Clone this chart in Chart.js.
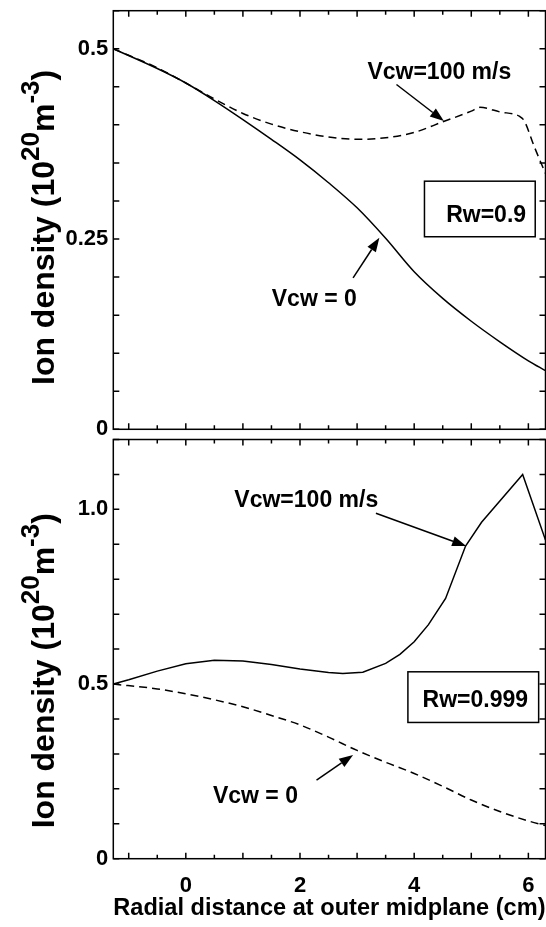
<!DOCTYPE html>
<html>
<head>
<meta charset="utf-8">
<script src="https://cdn.jsdelivr.net/npm/chart.js@4.4.1/dist/chart.umd.min.js"></script>
<style>
  body { margin: 0; background: #fff; }
  #wrap { position: relative; width: 546px; height: 927px; }
  canvas { position: absolute; left: 0; }
</style>
</head>
<body>
<div id="wrap">
  <canvas id="top" width="546" height="436" style="top:0"></canvas>
  <canvas id="bottom" width="546" height="491" style="top:436px"></canvas>
</div>
<script>
const xMin = -1.27, xMax = 6.3;

// top panel (Rw = 0.9)
const topSolidX = [-1.27, -0.5, 0, 0.5, 1, 1.5, 2, 2.5, 3, 3.5, 4, 4.5, 5, 5.5, 6, 6.3];
const topSolidY = [0.50, 0.474, 0.455, 0.432, 0.407, 0.381, 0.354, 0.324, 0.291, 0.251, 0.207, 0.172, 0.142, 0.115, 0.09, 0.077];
const topDashX = [-1.27, -0.5, 0, 0.5, 1, 1.5, 2, 2.5, 3, 3.5, 4, 4.5, 5, 5.15, 5.5, 5.85, 5.93, 6.1, 6.3];
const topDashY = [0.50, 0.475, 0.455, 0.434, 0.415, 0.401, 0.391, 0.384, 0.381, 0.383, 0.39, 0.404, 0.418, 0.423, 0.417, 0.411, 0.405, 0.372, 0.336];
const topYTicks = [0, 0.25, 0.5];
const topYLabels = ['0', '0.25', '0.5'];

// bottom panel (Rw = 0.999)
const botSolidX = [-1.27, -1, -0.5, 0, 0.5, 1, 1.5, 2, 2.5, 2.75, 3.1, 3.5, 3.75, 4, 4.25, 4.55, 4.9, 5.18, 5.9, 6.3];
const botSolidY = [0.50, 0.512, 0.537, 0.558, 0.568, 0.566, 0.556, 0.543, 0.533, 0.530, 0.534, 0.559, 0.585, 0.621, 0.67, 0.745, 0.895, 0.963, 1.10, 0.912];
const botDashX = [-1.27, -0.5, 0, 0.5, 1, 1.5, 2, 2.5, 3, 3.5, 4, 4.5, 5, 5.5, 6, 6.3];
const botDashY = [0.50, 0.486, 0.472, 0.455, 0.435, 0.41, 0.383, 0.348, 0.31, 0.276, 0.244, 0.207, 0.168, 0.135, 0.108, 0.095];
const botYTicks = [0, 0.5, 1.0];
const botYLabels = ['0', '0.5', '1.0'];

const xTicks = [0, 2, 4, 6];
const xLabels = ['0', '2', '4', '6'];

const FAM = '"Liberation Sans", Arial, Helvetica, sans-serif';
Chart.defaults.font.family = FAM;
Chart.defaults.color = '#000';

const pts = (xs, ys) => xs.map((x, i) => ({ x: x, y: ys[i] }));

function line(xs, ys, dashed, smooth) {
  return {
    data: pts(xs, ys),
    borderColor: '#000',
    borderWidth: 1.5,
    borderDash: dashed ? [8, 5] : [],
    pointRadius: 0,
    tension: smooth ? 0.4 : 0,
    cubicInterpolationMode: smooth ? 'monotone' : 'default',
    fill: false
  };
}

function drawYTitle(ctx, baseX, startY) {
  const parts = [['Ion density (10', false], ['20', true], ['m', false], ['-3', true], [')', false]];
  ctx.save();
  ctx.translate(baseX, startY);
  ctx.rotate(-Math.PI / 2);
  ctx.textAlign = 'left';
  ctx.textBaseline = 'alphabetic';
  ctx.fillStyle = '#000';
  let pos = 0;
  parts.forEach(([t, sup]) => {
    ctx.font = sup ? 'bold 26px ' + FAM : 'bold 32px ' + FAM;
    ctx.fillText(t, pos, sup ? -15 : 0);
    pos += ctx.measureText(t).width;
  });
  ctx.restore();
}

// frame, inward ticks, annotations
function makeDecor(cfg) {
  return {
    id: 'decor',
    afterDatasetsDraw(chart) {
      const { ctx, chartArea: a, scales: { x, y } } = chart;
      ctx.save();
      ctx.strokeStyle = '#000';
      ctx.fillStyle = '#000';
      ctx.lineWidth = 1.5;
      ctx.setLineDash([]);

      // x ticks, top and bottom
      for (let v = -1; v <= xMax; v += 0.5) {
        const px = x.getPixelForValue(v);
        const len = Number.isInteger(v) ? 6 : 4;
        ctx.beginPath();
        ctx.moveTo(px, a.bottom); ctx.lineTo(px, a.bottom - len);
        ctx.moveTo(px, a.top); ctx.lineTo(px, a.top + len);
        ctx.stroke();
      }
      // y ticks, left and right
      for (let i = 0; i * cfg.yStep <= cfg.yMax + 1e-9; i++) {
        const py = y.getPixelForValue(i * cfg.yStep);
        ctx.beginPath();
        ctx.moveTo(a.left, py); ctx.lineTo(a.left + 6, py);
        ctx.moveTo(a.right, py); ctx.lineTo(a.right - 6, py);
        ctx.stroke();
      }
      ctx.strokeRect(a.left, a.top, a.right - a.left, a.bottom - a.top);

      // box
      const b = cfg.box;
      const bx0 = x.getPixelForValue(b.x0), bx1 = x.getPixelForValue(b.x1);
      const by0 = y.getPixelForValue(b.y0), by1 = y.getPixelForValue(b.y1);
      ctx.fillStyle = '#fff';
      ctx.fillRect(bx0, by1, bx1 - bx0, by0 - by1);
      ctx.strokeRect(bx0, by1, bx1 - bx0, by0 - by1);
      ctx.fillStyle = '#000';
      ctx.font = 'bold 23px ' + FAM;
      ctx.textBaseline = 'middle';
      ctx.textAlign = 'center';
      ctx.fillText(b.text, x.getPixelForValue(b.tx), y.getPixelForValue(b.ty));

      // labels
      cfg.notes.forEach(n => {
        ctx.fillText(n.text, x.getPixelForValue(n.x), y.getPixelForValue(n.y));
      });

      // arrows
      cfg.arrows.forEach(([x0, y0, x1, y1]) => {
        const p0x = x.getPixelForValue(x0), p0y = y.getPixelForValue(y0);
        const p1x = x.getPixelForValue(x1), p1y = y.getPixelForValue(y1);
        const ang = Math.atan2(p1y - p0y, p1x - p0x);
        const hl = 14, hw = 5;
        const bx = p1x - hl * Math.cos(ang), byy = p1y - hl * Math.sin(ang);
        ctx.beginPath();
        ctx.moveTo(p0x, p0y); ctx.lineTo(bx, byy);
        ctx.stroke();
        ctx.beginPath();
        ctx.moveTo(p1x, p1y);
        ctx.lineTo(bx + hw * Math.sin(ang), byy - hw * Math.cos(ang));
        ctx.lineTo(bx - hw * Math.sin(ang), byy + hw * Math.cos(ang));
        ctx.closePath();
        ctx.fill();
      });

      drawYTitle(ctx, 54, cfg.titleStart);
      ctx.restore();
    }
  };
}

function yScale(max, ticks, labels) {
  return {
    type: 'linear', min: 0, max: max,
    grid: { display: false, drawTicks: false },
    border: { display: false },
    afterBuildTicks: s => { s.ticks = ticks.map(v => ({ value: v })); },
    afterFit: s => { s.width = 113.3; s.paddingTop = 0; s.paddingBottom = 0; },
    ticks: {
      padding: 5,
      font: { size: 22, weight: 'bold' },
      color: '#000',
      callback: (v, i) => labels[i]
    }
  };
}

new Chart(document.getElementById('top'), {
  type: 'line',
  data: { datasets: [line(topSolidX, topSolidY, false, true), line(topDashX, topDashY, true, true)] },
  options: {
    responsive: false, animation: false, devicePixelRatio: 1,
    layout: { padding: { top: 10.7, right: 0.5, bottom: 6.7, left: 0 } },
    plugins: { legend: { display: false }, tooltip: { enabled: false } },
    scales: {
      x: { type: 'linear', min: xMin, max: xMax, display: false },
      y: yScale(0.55, topYTicks, topYLabels)
    }
  },
  plugins: [makeDecor({
    yStep: 0.05, yMax: 0.55, titleStart: 385,
    box: { x0: 4.18, x1: 6.12, y0: 0.253, y1: 0.326, text: 'Rw=0.9', tx: 5.26, ty: 0.281 },
    notes: [{ text: 'Vcw=100 m/s', x: 4.44, y: 0.469 }, { text: 'Vcw = 0', x: 2.25, y: 0.170 }],
    arrows: [[3.69, 0.453, 4.52, 0.405], [2.93, 0.199, 3.39, 0.2516]]
  })]
});

new Chart(document.getElementById('bottom'), {
  type: 'line',
  data: { datasets: [line(botSolidX, botSolidY, false, false), line(botDashX, botDashY, true, true)] },
  options: {
    responsive: false, animation: false, devicePixelRatio: 1,
    layout: { padding: { top: 3.5, right: 0.5, bottom: 0, left: 0 } },
    plugins: { legend: { display: false }, tooltip: { enabled: false } },
    scales: {
      x: {
        type: 'linear', min: xMin, max: xMax,
        grid: { display: false, drawTicks: false },
        border: { display: false },
        afterBuildTicks: s => { s.ticks = xTicks.map(v => ({ value: v })); },
        afterFit: s => { s.height = 68.3; s.paddingLeft = 0; s.paddingRight = 0; },
        ticks: {
          padding: 14, maxRotation: 0,
          font: { size: 22, weight: 'bold' },
          color: '#000',
          callback: (v, i) => xLabels[i]
        },
        title: {
          display: true,
          text: 'Radial distance at outer midplane (cm)',
          font: { size: 23.7, weight: 'bold' },
          color: '#000',
          padding: { top: 0, bottom: 4 }
        }
      },
      y: yScale(1.2, botYTicks, botYLabels)
    }
  },
  plugins: [makeDecor({
    yStep: 0.1, yMax: 1.2, titleStart: 392.3,
    box: { x0: 3.89, x1: 6.18, y0: 0.390, y1: 0.535, text: 'Rw=0.999', tx: 5.07, ty: 0.452 },
    notes: [{ text: 'Vcw=100 m/s', x: 2.11, y: 1.025 }, { text: 'Vcw = 0', x: 1.22, y: 0.177 }],
    arrows: [[3.33, 0.989, 4.91, 0.895], [2.29, 0.225, 2.93, 0.297]]
  })]
});
</script>
</body>
</html>
